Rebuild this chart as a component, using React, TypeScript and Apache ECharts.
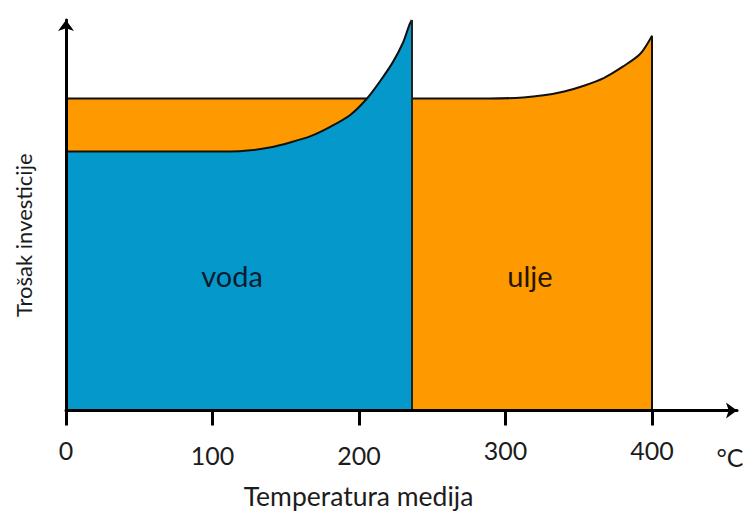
import React, { useEffect, useRef } from "react";
import * as echarts from "echarts";

// x: temperatura medija (°C), y: relativni trošak investicije
const vodaX = [0, 112, 126, 139, 153, 167, 180, 194, 205, 214, 223, 230, 234.3, 236];
const vodaY = [66, 66, 66.3, 67, 68.3, 69.9, 72.2, 75.3, 79.3, 83.7, 88.7, 93.7, 98.2, 99.5];
const vodaEnd = 236;

const uljeX = [0, 289, 312, 326, 340, 353, 367, 380, 392, 400];
const uljeY = [79.5, 79.5, 79.75, 80.3, 81.3, 82.7, 84.7, 87.6, 90.9, 95.5];
const uljeEnd = 400;

const xTicks = [0, 100, 200, 300, 400];
const lowLabels = [100, 200];

const BLUE = "#0599CB";
const ORANGE = "#FE9A00";
const TEXT = "#1c1c1c";
const FONT = "Lato";

export default function App() {
  const ref = useRef<HTMLDivElement>(null);
  useEffect(() => {
    if (!ref.current) return;
    const chart = echarts.init(ref.current, null, { renderer: "svg" });
    const vodaData = vodaX.map((x, i) => [x, vodaY[i]]);
    const uljeData = uljeX.map((x, i) => [x, uljeY[i]]);
    chart.setOption({
      animation: false,
      backgroundColor: "#ffffff",
      textStyle: { fontFamily: FONT },
      grid: { left: 66, right: 6, top: 20, bottom: 96, containLabel: false },
      xAxis: {
        type: "value",
        min: 0,
        max: 458,
        interval: 100,
        z: 5,
        splitLine: { show: false },
        axisLine: {
          show: true,
          lineStyle: { color: "#000", width: 3 },
          symbol: ["none", "arrow"],
          symbolSize: [12, 11],
        },
        axisTick: {
          show: true,
          length: 15,
          lineStyle: { color: "#000", width: 3 },
          customValues: xTicks,
        },
        axisLabel: {
          customValues: xTicks,
          margin: 26,
          formatter: (v: number) =>
            lowLabels.includes(v) ? `{lo|${v}}` : `{hi|${v}}`,
          rich: {
            hi: { fontFamily: FONT, fontSize: 25, color: TEXT, lineHeight: 26 },
            lo: { fontFamily: FONT, fontSize: 25, color: TEXT, lineHeight: 36 },
          },
        },
        name: "Temperatura medija",
        nameLocation: "middle",
        nameGap: 72,
        nameTextStyle: {
          fontFamily: FONT,
          fontSize: 26.5,
          color: TEXT,
          lineHeight: 26,
          padding: [0, 86, 0, 0],
        },
      },
      yAxis: {
        type: "value",
        min: 0,
        max: 99.5,
        z: 5,
        splitLine: { show: false },
        axisTick: { show: false },
        axisLabel: { show: false },
        axisLine: {
          show: true,
          lineStyle: { color: "#000", width: 3 },
          symbol: ["none", "arrow"],
          symbolSize: [12, 11],
        },
        name: "Trošak investicije",
        nameLocation: "middle",
        nameGap: 32,
        nameTextStyle: {
          fontFamily: FONT,
          fontSize: 22,
          color: TEXT,
          padding: [0, 40, 0, 0],
        },
      },
      series: [
        {
          name: "ulje",
          type: "line",
          data: uljeData,
          symbol: "none",
          smooth: 0.3,
          lineStyle: { color: "#111", width: 2 },
          areaStyle: { color: ORANGE, opacity: 1 },
          z: 2,
          markLine: {
            silent: true,
            symbol: ["none", "none"],
            label: { show: false },
            lineStyle: { color: "#111", width: 2, type: "solid" },
            data: [[{ coord: [uljeEnd, 0] }, { coord: [uljeEnd, uljeY[uljeY.length - 1]] }]],
          },
        },
        {
          name: "voda",
          type: "line",
          data: vodaData,
          symbol: "none",
          smooth: 0.3,
          lineStyle: { color: "#111", width: 2 },
          areaStyle: { color: BLUE, opacity: 1 },
          z: 3,
          markLine: {
            silent: true,
            symbol: ["none", "none"],
            label: { show: false },
            lineStyle: { color: "#222", width: 2, type: "solid" },
            data: [[{ coord: [vodaEnd, 0] }, { coord: [vodaEnd, vodaY[vodaY.length - 1]] }]],
          },
        },
      ],
      graphic: [
        {
          type: "text",
          x: 232,
          y: 275,
          style: {
            text: "voda",
            fontFamily: FONT,
            fontSize: 29,
            fill: "#0d1b2e",
            align: "center",
            verticalAlign: "middle",
          },
          z: 10,
        },
        {
          type: "text",
          x: 530,
          y: 275,
          style: {
            text: "ulje",
            fontFamily: FONT,
            fontSize: 29,
            fill: "#241400",
            align: "center",
            verticalAlign: "middle",
          },
          z: 10,
        },
        {
          type: "text",
          x: 730,
          y: 457,
          style: {
            text: "°C",
            fontFamily: FONT,
            fontSize: 25,
            fill: TEXT,
            align: "center",
            verticalAlign: "middle",
          },
          z: 10,
        },
      ],
    });
    return () => chart.dispose();
  }, []);
  return (
    <div
      ref={ref}
      style={{ position: "fixed", left: 0, top: 0, width: 743, height: 514 }}
    />
  );
}
